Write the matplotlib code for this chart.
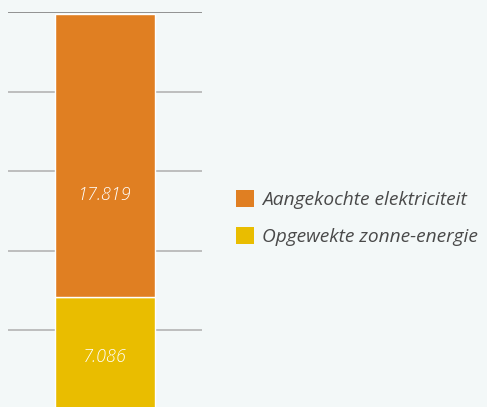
import matplotlib.pyplot as plt
from matplotlib.patches import Patch

# data
series = ['Opgewekte zonne-energie', 'Aangekochte elektriciteit']
waarden = [7086, 17819]
labels = ['7.086', '17.819']
label_pos = [0.47, 0.36]   # where the value label sits within its segment
kleuren = ['#e9bd00', '#e07f22']
yticks = [0, 5000, 10000, 15000, 20000, 25000]

bg = '#f3f8f8'
fig = plt.figure(figsize=(4.87, 4.07), dpi=100, facecolor=bg)
ax = fig.add_axes([8 / 487, 1 - 409.5 / 407, 194 / 487, 397.5 / 407])
ax.set_facecolor(bg)

onder = 0
for naam, w, lab, pos, kl in zip(series, waarden, labels, label_pos, kleuren):
    ax.bar(0, w, bottom=onder, width=1.04, color=kl, edgecolor='white',
           linewidth=1, zorder=3)
    ax.text(0, onder + w * pos, lab, ha='center', va='center', color='white',
            fontsize=13, style='italic', family='Open Sans', weight='light',
            zorder=4)
    onder += w

ax.set_xlim(-1, 1)
ax.set_ylim(0, 25000)
ax.set_yticks(yticks)
ax.yaxis.grid(True, color='#b4b4b4', linewidth=1.2)
ax.get_ygridlines()[-1].set_color('#808080')
ax.set_axisbelow(True)
ax.tick_params(left=False, bottom=False, labelleft=False, labelbottom=False)
for s in ax.spines.values():
    s.set_visible(False)

handles = [Patch(facecolor=kleuren[1], label=series[1]),
           Patch(facecolor=kleuren[0], label=series[0])]
leg = fig.legend(handles=handles, loc='center left',
                 bbox_to_anchor=(236 / 487, 1 - 218 / 407), frameon=False,
                 borderpad=0, borderaxespad=0,
                 handlelength=0.95, handleheight=0.95, handletextpad=0.4,
                 labelspacing=0.95,
                 prop={'family': 'Open Sans', 'style': 'italic', 'size': 13.8})
for t in leg.get_texts():
    t.set_color('#4a4a4a')

fig.savefig('out.png', dpi=100, facecolor=bg)
